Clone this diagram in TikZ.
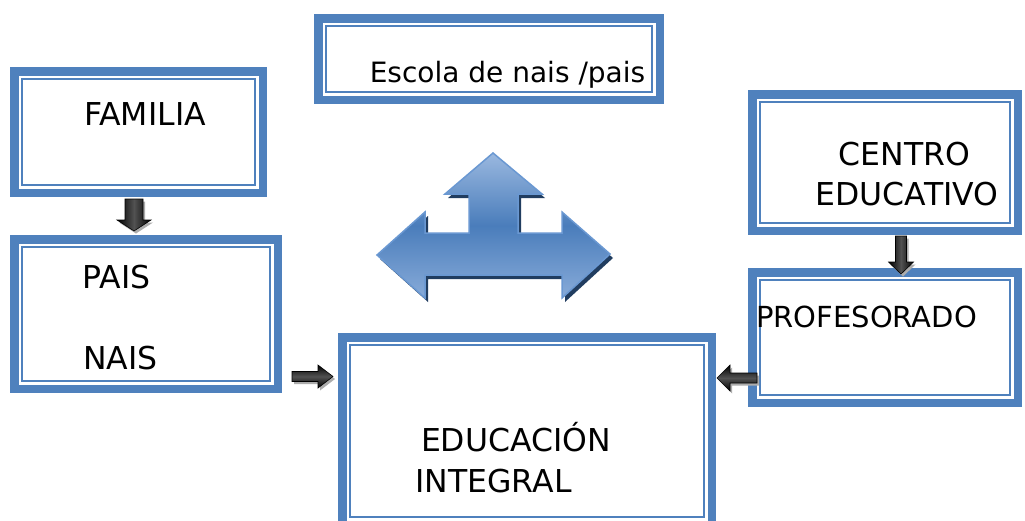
\documentclass[tikz,border=0pt]{standalone}
\usepackage{fontspec}
\setmainfont{DejaVu Sans}
\usetikzlibrary{calc}
\definecolor{boxblue}{HTML}{4F81BD}
\definecolor{arrtop}{HTML}{9AB8DF}
\definecolor{arrmid}{HTML}{4A7DBB}
\definecolor{arrbot}{HTML}{88ABD9}
\definecolor{arredge}{HTML}{6A98D2}
\definecolor{arrnavy}{HTML}{213D60}
\newcommand\blkarrow[6]{%
 \coordinate (hb) at ($(#2)!#5!(#1)$);
 \fill[gray!65,transform canvas={shift={(2pt,-2.5pt)}}]
   ($(#1)!#3!90:(#2)$) -- ($(hb)!#3!-90:(#1)$) -- ($(hb)!#4!-90:(#1)$) -- (#2)
   -- ($(hb)!#4!90:(#1)$) -- ($(hb)!#3!90:(#1)$) -- ($(#1)!#3!-90:(#2)$) -- cycle;
 \path[draw=black,line width=0.6pt,#6]
   ($(#1)!#3!90:(#2)$) -- ($(hb)!#3!-90:(#1)$) -- ($(hb)!#4!-90:(#1)$) -- (#2)
   -- ($(hb)!#4!90:(#1)$) -- ($(hb)!#3!90:(#1)$) -- ($(#1)!#3!-90:(#2)$) -- cycle;
}
\begin{document}
\begin{tikzpicture}[x=1pt,y=-1pt,
  frame/.style={draw=boxblue,line width=8.5pt,fill=white,inner sep=0pt,outer sep=0pt,
    path picture={\draw[boxblue,line width=2.3pt]
      ([xshift=7.75pt,yshift=-7.75pt]path picture bounding box.north west) rectangle
      ([xshift=-7.75pt,yshift=7.75pt]path picture bounding box.south east);}},
  lbl/.style={font=\fontsize{31.5}{38}\selectfont,inner sep=0pt,anchor=base},
  vshade/.style={left color=black,right color=black,middle color=black!68},
  hshade/.style={top color=black,bottom color=black,middle color=black!68}]
\useasboundingbox (0,0) rectangle (1025,520);
\clip (0,0) rectangle (1025,520);
\fill[white] (0,0) rectangle (1025,520);

% boxes
\node[frame,minimum width=248.5pt,minimum height=121.5pt] (fam) at (138.5,132) {};
\node[frame,minimum width=263.5pt,minimum height=149.5pt] (pais) at (146,314) {};
\node[frame,minimum width=341.5pt,minimum height=81.5pt] (esc) at (489,59) {};
\node[frame,minimum width=265.5pt,minimum height=136.5pt] (cen) at (885,162.5) {};
\node[frame,minimum width=265.5pt,minimum height=130.5pt] (prof) at (885,337.5) {};
\node[frame,minimum width=369.5pt,minimum height=187.5pt] (educ) at (527,431) {};

% texts
\node[lbl] (tfam) at (145,125) {FAMILIA};
\node[lbl,font=\fontsize{28}{34}\selectfont] (tesc) at (507.5,82) {Escola de nais /pais};
\node[lbl] (tpais) at (116.5,288) {PAIS};
\node[lbl] (tnais) at (120.5,369) {NAIS};
\node[lbl] (tcen) at (904.5,165) {CENTRO};
\node[lbl] (tedu) at (907,205) {EDUCATIVO};
\node[lbl,font=\fontsize{29}{35}\selectfont,anchor=base west] (tprof) at (756,327) {PROFESORADO};
\node[lbl] (teduc) at (516,451) {EDUCACIÓN};
\node[lbl] (tint) at (493.5,492) {INTEGRAL};

% black block arrows
\coordinate (a1s) at (134,199);
\coordinate (a1e) at (134,231);
\blkarrow{a1s}{a1e}{9pt}{17pt}{11pt}{vshade}
\coordinate (a2s) at (901,236);
\coordinate (a2e) at (901,274);
\blkarrow{a2s}{a2e}{5.5pt}{12.5pt}{12pt}{vshade}
\coordinate (a3s) at (292,376.5);
\coordinate (a3e) at (333,376.5);
\blkarrow{a3s}{a3e}{5pt}{11.5pt}{15pt}{hshade}
\coordinate (a4s) at (757,378);
\coordinate (a4e) at (717,378);
\blkarrow{a4s}{a4e}{5pt}{13pt}{13pt}{hshade}

% big blue three-way arrow
\def\bigarrow{(493,153) -- (542,194) -- (518,194) -- (518,233) -- (562,233) -- (562,212)
  -- (610,254) -- (562,298) -- (562,275) -- (425,275) -- (425,298) -- (377,255)
  -- (425,212) -- (425,233) -- (469,233) -- (469,194) -- (445,194) -- cycle}
\fill[arrnavy,transform canvas={shift={(3pt,-4pt)}}] \bigarrow;
\path[draw=arredge,line width=1.5pt,top color=arrtop,bottom color=arrbot,middle color=arrmid] \bigarrow;
\end{tikzpicture}
\end{document}
